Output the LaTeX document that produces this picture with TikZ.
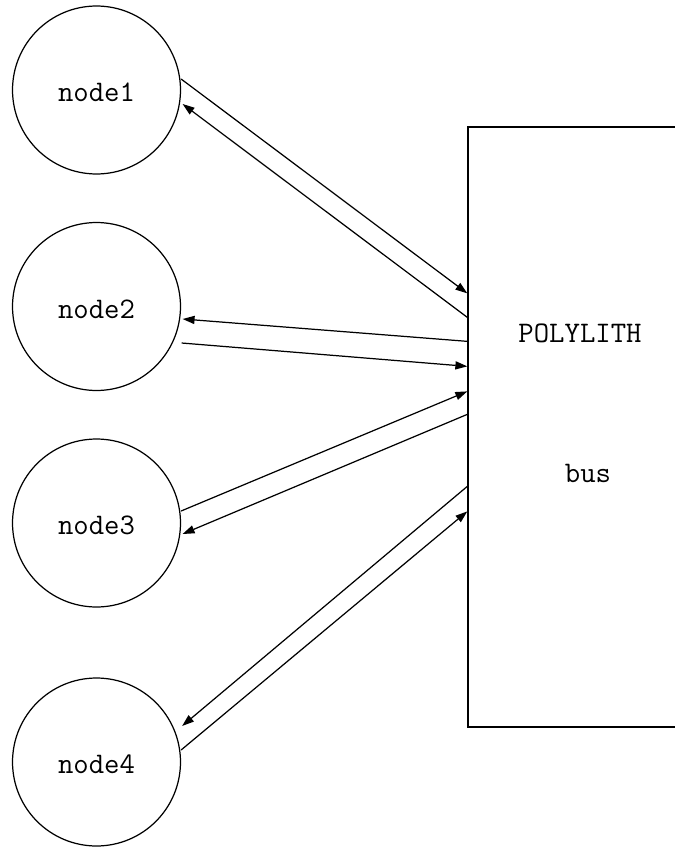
\documentclass[tikz,border=0pt]{standalone}
\usepackage{fontspec}
\usetikzlibrary{calc,arrows.meta}

\begin{document}
\begin{tikzpicture}[x=0.02cm, y=-0.02cm, line width=0.7pt,
    every node/.style={font=\ttfamily\fontsize{17}{20}\selectfont},
    >={Triangle[length=6.8pt,width=4.6pt]},
    station/.style={draw, circle, inner sep=0pt, minimum size=3.36cm,
        text height=13.6pt, text depth=0pt} ]

    \useasboundingbox (0,0) rectangle (675,848);

    % Draw bus.
    \node[draw, rectangle, inner sep=0pt, minimum width=4.64cm,
        minimum height=12cm, line width=0.8pt] (busbox) at (584,427) {};
    \node (polylith) at (580,333) {POLYLITH};
    \node (buslabel) at (588,473) {bus};

    % nodes
    \foreach \i/\y in {1/90,2/306.5,3/523,4/762}
    {
        \node[station] (node\i) at (96.5,\y) {node\i};
    }

    % ports on the bus
    \foreach \k/\dy in {a/167,b/191,c/215,d/240,e/265,f/288,g/360,h/385}
    {
        \coordinate (port\k) at ($(busbox.north west)+(0,\dy)$);
    }

    % ports on the nodes
    \coordinate (n1out) at ($(node1.east)+(0,-11)$);
    \coordinate (n1in)  at ($(node1.east)+(1.5,14)$);
    \coordinate (n2in)  at ($(node2.east)+(1.5,12.5)$);
    \coordinate (n2out) at ($(node2.east)+(0.5,36.5)$);
    \coordinate (n3out) at ($(node3.east)+(0,-12)$);
    \coordinate (n3in)  at ($(node3.east)+(1.5,11)$);
    \coordinate (n4in)  at ($(node4.east)+(1,-36)$);
    \coordinate (n4out) at ($(node4.east)+(0,-12)$);

    % messages
    \draw[->] (n1out) -- (porta);
    \draw[->] (portb) -- (n1in);
    \draw[->] (portc) -- (n2in);
    \draw[->] (n2out) -- (portd);
    \draw[->] (n3out) -- (porte);
    \draw[->] (portf) -- (n3in);
    \draw[->] (portg) -- (n4in);
    \draw[->] (n4out) -- (porth);

\end{tikzpicture}
\end{document}
